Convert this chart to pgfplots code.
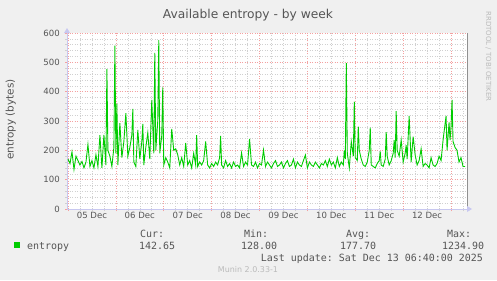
\documentclass[border=0pt]{standalone}
\usepackage{pgfplots}
\pgfplotsset{compat=1.18}
\usepackage{fontspec}
\setmainfont{DejaVu Sans}
\setmonofont{DejaVu Sans Mono}
\usetikzlibrary{arrows.meta}
\definecolor{bgc}{HTML}{F0F0F0}
\definecolor{txt}{HTML}{555555}
\definecolor{mgrid}{HTML}{F4A0A0}
\definecolor{ngrid}{HTML}{D0D0D0}
\definecolor{axc}{HTML}{C8C8F0}
\definecolor{ent}{HTML}{00CC00}
\definecolor{lgt}{HTML}{BBBBBB}
\definecolor{rline}{HTML}{909090}

\pgfplotstableread{
x y
0 170
1 155
2 195
3 135
4 180
5 165
6 150
7 162
8 140
9 160
10 220
11 145
12 165
13 140
14 185
15 145
16 252
17 140
18 253
19 150
19.5 477
20 200
21 180
22 145
23 210
23.5 557
24 190
24.5 358
25 150
26 293
27 175
28 230
29 327
30 180
31 210
32 252
32.5 341
33 160
34 145
35 270
36 170
37 230
37.5 290
38 150
39 210
40 260
41 170
42 372
43 190
43.5 532
44 200
45 300
45.5 576
46 190
47 250
47.5 415
48 150
49 175
50 160
51 140
52 273
53 200
54 205
55 185
56 150
57 175
58 145
59 225
60 150
61 165
62 140
63 190
64 150
64.5 252
65 145
66 160
67 150
68 165
69 230
70 150
71 140
72 155
73 145
74 160
75 150
76 175
76.5 249
77 150
78 140
79 165
80 145
81 155
82 140
83 160
84 145
85 150
86 140
87 191
88 145
89 160
90 150
91 239
92 150
93 145
94 160
95 140
96 155
97 150
98 201
99 145
100 160
101 150
102 140
103 155
104 165
105 145
106 150
107 160
108 140
109 155
110 165
111 145
112 150
113 170
114 140
115 160
116 150
117 145
118 165
119 184
120 140
121 160
122 150
123 145
124 160
125 150
126 140
127 155
128 150
129 165
130 145
131 170
132 150
133 160
134 140
135 175
136 145
137 160
138 150
138.5 200
139 170
139.5 497
140 190
141 140
142 230
143 180
143.5 366
144 175
145 165
145.5 281
146 200
147 170
148 150
149 145
150 160
151 200
151.5 277
152 150
153 145
154 140
155 155
156 165
156.5 196
157 150
158 145
159 170
159.5 262
160 180
161 150
162 165
163 190
163.5 235
164 175
164.5 334
165 200
166 180
167 235
168 160
169 190
169.5 218
170 170
171 317
172 160
173 247
174 185
175 150
176 165
177 205
178 145
179 155
180 150
181 140
182 175
183 150
184 145
185 155
186 180
187 165
188 235
189 290
189.5 317
190 200
191 295
191.5 235
192 280
192.5 372
193 230
194 210
195 200
196 160
197 175
198 145
199 145
}\entdata

\begin{document}
\begin{tikzpicture}[x=1bp,y=1bp]
\fill[bgc] (0,0) rectangle (497,280);
\useasboundingbox (0,0) rectangle (497,280);
\begin{axis}[
  at={(67bp,71bp)}, anchor=south west,
  scale only axis, width=400bp, height=176bp,
  xmin=-0.5, xmax=200, ymin=0, ymax=600,
  axis background/.style={fill=white},
  axis x line*=bottom, axis y line*=left,
  axis line style={draw=axc, line width=0.8bp},
  xtick={0,24,...,192}, xticklabels={},
  minor xtick={6,12,...,198},
  ytick={0,100,...,600},
  minor ytick={20,40,...,580},
  grid=both,
  major grid style={draw=mgrid, line width=0.6bp, dash pattern=on 1bp off 1.5bp},
  minor grid style={draw=ngrid, line width=0.6bp, dash pattern=on 1bp off 1.5bp},
  tick align=outside,
  major tick length=2bp, minor tick length=2bp,
  major tick style={draw=mgrid, line width=0.6bp},
  minor tick style={draw=ngrid, line width=0.6bp},
  extra x ticks={12,36,60,84,108,132,156,180},
  extra x tick labels={05 Dec,06 Dec,07 Dec,08 Dec,09 Dec,10 Dec,11 Dec,12 Dec},
  extra x tick style={grid=none, major tick length=0pt},
  /pgf/number format/assume math mode=true,
  ticklabel style={font=\fontsize{8.6}{10}\selectfont, text=txt},
  yticklabel style={inner sep=0pt, xshift=-5bp},
  xticklabel style={inner sep=0pt, yshift=-3bp},
  clip=false,
]
\addplot[ent, line width=0.9bp, sharp plot, mark=none] table[x=x,y=y] {\entdata};
\draw[rline, line width=0.8bp] (axis cs:200,0) -- (axis cs:200,600);
\end{axis}
% axis arrows
\fill[axc] (64,247) -- (70,247) -- (67,252) -- cycle;
\fill[axc] (467,68) -- (467,74) -- (472,71) -- cycle;
% title and labels
\node[anchor=base, font=\fontsize{12.3}{14}\selectfont, text=txt] at (248,261.7) {Available entropy - by week};
\node[rotate=90, anchor=base, font=\fontsize{10.5}{12}\selectfont, text=txt] at (13.6,160.5) {entropy (bytes)};
\node[rotate=-90, anchor=base, font=\fontsize{7}{8}\selectfont, text=lgt] at (486,223.5) {RRDTOOL / TOBI OETIKER};
% legend
\fill[ent] (14,32) rectangle (20,38);
\begin{scope}[every node/.style={font=\ttfamily\fontsize{10}{12}\selectfont, text=txt, inner sep=0pt}]
\node[anchor=base west] at (27,31) {entropy};
\node[anchor=base west] at (140,42.4) {Cur:};
\node[anchor=base west] at (139,31) {142.65};
\node[anchor=base west] at (244,42.4) {Min:};
\node[anchor=base west] at (241,31) {128.00};
\node[anchor=base west] at (346,42.4) {Avg:};
\node[anchor=base west] at (340,31) {177.70};
\node[anchor=base west] at (447,42.4) {Max:};
\node[anchor=base west] at (442,31) {1234.90};
\node[anchor=base east] at (483,19) {Last update: Sat Dec 13 06:40:00 2025};
\end{scope}
\node[anchor=base, font=\fontsize{8}{9}\selectfont, text=lgt] at (248,7.8) {Munin 2.0.33-1};
\end{tikzpicture}
\end{document}
